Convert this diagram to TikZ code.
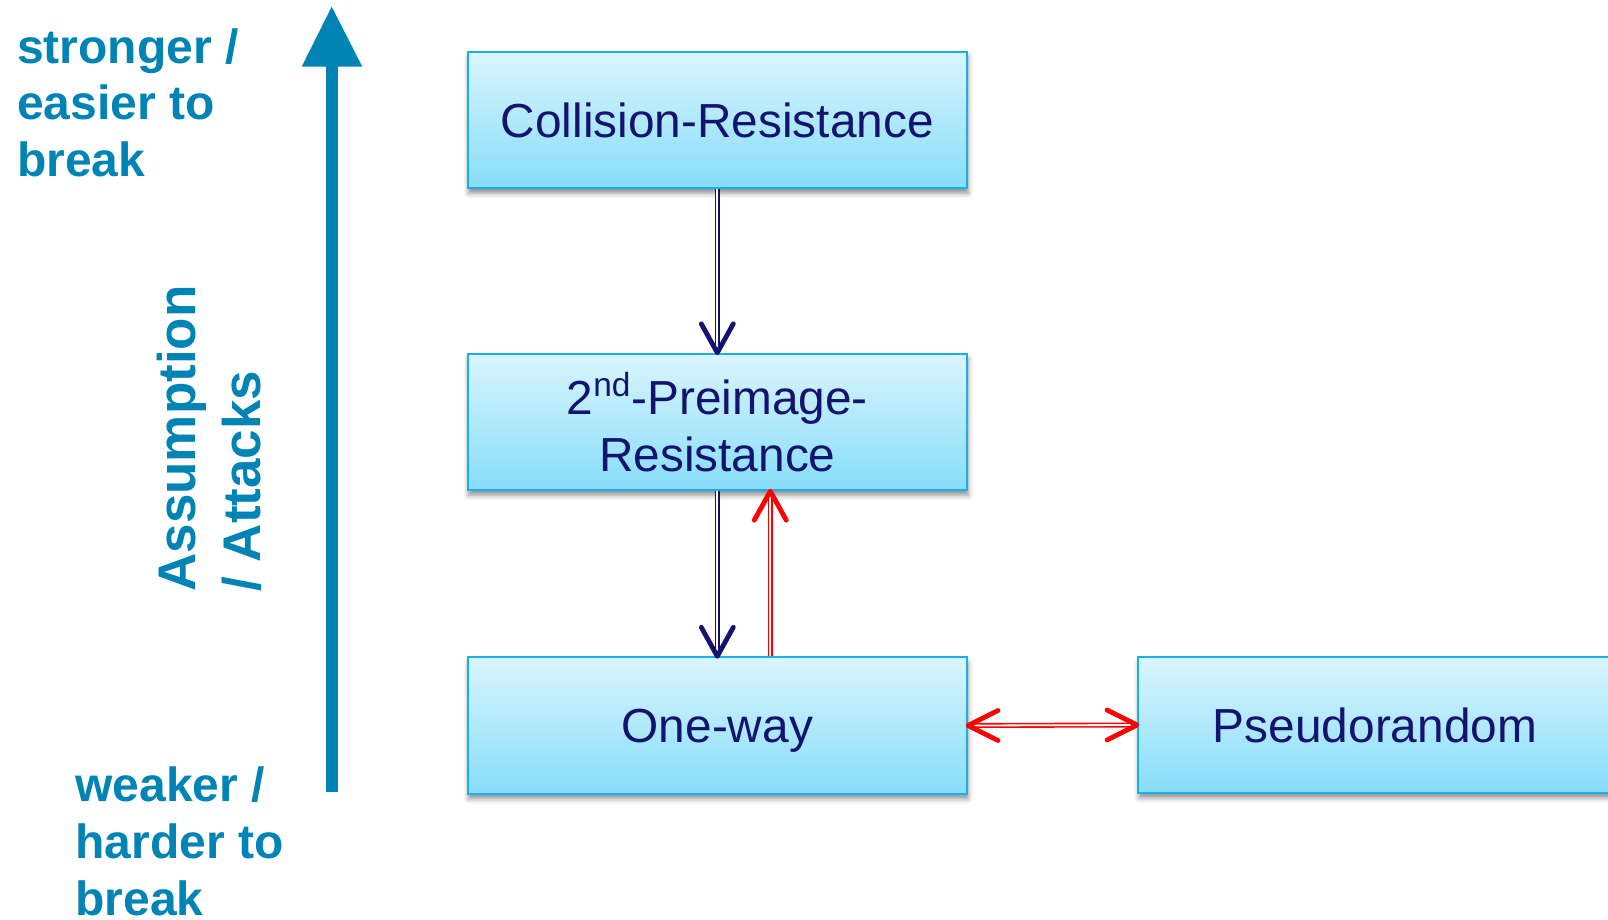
\documentclass[tikz,border=0pt]{standalone}
\usepackage{fontspec}
\setmainfont{Liberation Sans}
\usetikzlibrary{shadows.blur}
\definecolor{axisblue}{RGB}{0,131,181}
\definecolor{boxline}{RGB}{22,176,236}
\definecolor{boxtop}{RGB}{218,245,253}
\definecolor{boxbottom}{RGB}{134,221,250}
\definecolor{navy}{RGB}{20,20,112}
\definecolor{implred}{RGB}{255,0,0}

\begin{document}
\begin{tikzpicture}[x=0.5pt,y=-0.5pt,
  prop/.style={draw=boxline, line width=1pt, top color=boxtop, bottom color=boxbottom,
    text=navy, font=\fontsize{23.9}{28.2}\selectfont, inner sep=0pt, align=center,
    blur shadow={shadow xshift=0.5pt, shadow yshift=-2.5pt, shadow blur radius=2.5pt, shadow opacity=45}},
  lab/.style={text=axisblue, font=\bfseries\fontsize{24}{28.35}\selectfont,
    align=left, inner sep=0pt, anchor=base west},
  navyd/.style={draw=navy, line width=0.8pt, double=white, double distance=0.9pt},
  redd/.style={draw=implred, line width=0.8pt, double=white, double distance=0.9pt},
  tipnavy/.style={draw=navy, line width=2.4pt, line cap=round, line join=round},
  tipred/.style={draw=implred, line width=2.4pt, line cap=round, line join=round}]

\useasboundingbox (0,0) rectangle (1608,920);
\clip (0,0) rectangle (1608,920);

% vertical scale arrow
\draw[axisblue, line width=6.2pt] (332,792) -- (332,64);
\fill[axisblue] (301.7,66.7) -- (331.7,6.7) -- (362.3,66.7) -- cycle;

% scale labels (anchored on the baseline of their last line)
\node[lab] (top) at (16.7,176.7) {stronger /\\easier to\\break};
\node[lab] (bot) at (75,915) {weaker /\\harder to\\break};
\node[lab, rotate=90, font=\bfseries\fontsize{26.5}{32.5}\selectfont] (axis) at (260,592)
  {Assumption\\/ Attacks};

% properties
\node[prop, minimum width=249.7pt, minimum height=68.2pt] (cr) at (717.3,120)
  {Collision-Resistance};
\node[prop, minimum width=249.7pt, minimum height=68.2pt] (pi) at (717.3,422)
  {2\textsuperscript{nd}-Preimage-\\Resistance};
\node[prop, minimum width=249.7pt, minimum height=68.2pt, text depth=0pt] (ow) at (717.3,725.5)
  {One-way};
\node[prop, minimum width=237pt, minimum height=67.8pt] (pr) at (1375,725)
  {Pseudorandom};

% implications
\draw[navyd] (cr.south) -- (pi.north);
\draw[tipnavy] ([shift={(-8pt,14.5pt)}]pi.north) -- (pi.north) -- ([shift={(8pt,14.5pt)}]pi.north);

\draw[navyd] (pi.south) -- (ow.north);
\draw[tipnavy] ([shift={(-8pt,14.5pt)}]ow.north) -- (ow.north) -- ([shift={(8pt,14.5pt)}]ow.north);

\draw[redd] ([xshift=26.5pt]ow.north) -- ([xshift=26.5pt]pi.south);
\draw[tipred] ([shift={(18.5pt,-14.5pt)}]pi.south) -- ([xshift=26.5pt]pi.south) -- ([shift={(34.5pt,-14.5pt)}]pi.south);

\draw[redd] (ow.east) -- (pr.west);
\draw[tipred] ([shift={(15pt,7.5pt)}]ow.east) -- (ow.east) -- ([shift={(15pt,-7.5pt)}]ow.east);
\draw[tipred] ([shift={(-15pt,7.5pt)}]pr.west) -- (pr.west) -- ([shift={(-15pt,-7.5pt)}]pr.west);

\end{tikzpicture}
\end{document}
